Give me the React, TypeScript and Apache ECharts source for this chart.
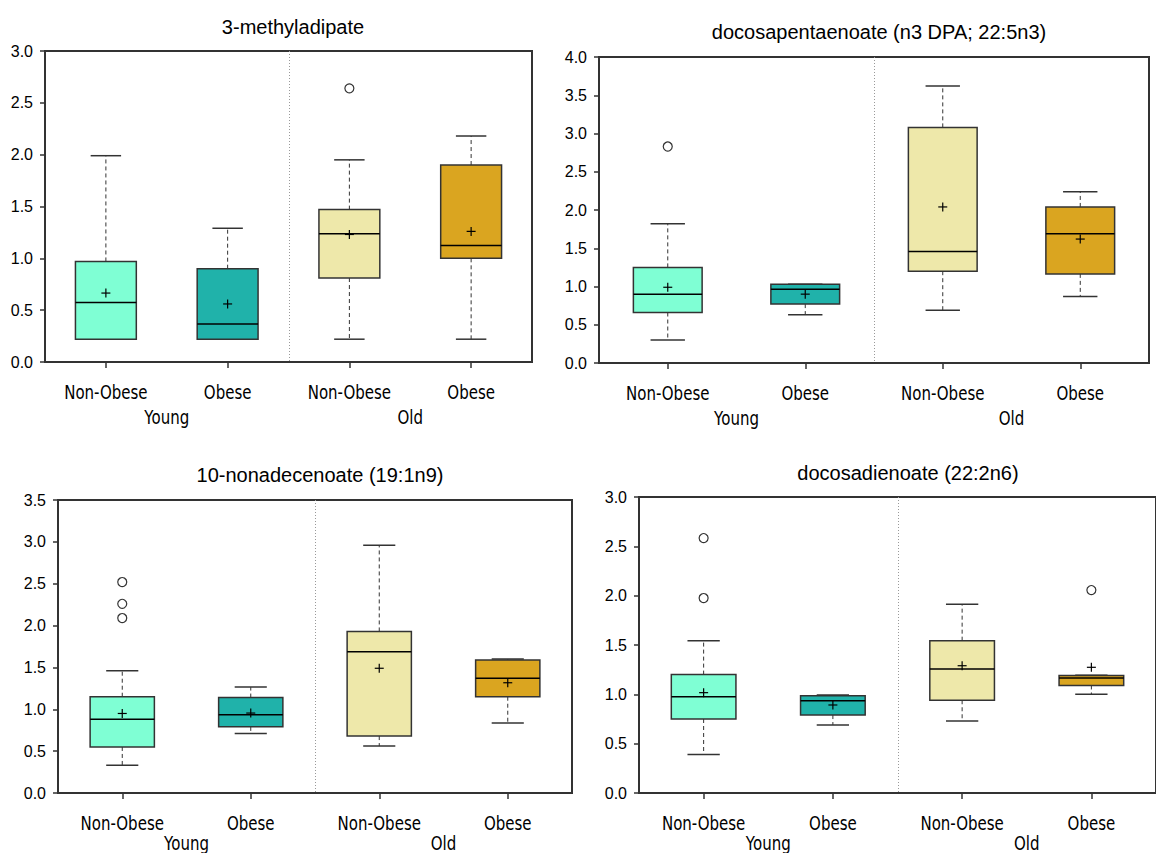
import React, { useEffect, useRef } from "react";
import * as echarts from "echarts";

// ---- Data ----
const categories = ["Non-Obese", "Obese", "Non-Obese", "Obese"];
const groups = ["Young", "Old"];
const boxColors = ["#7FFFD4", "#20B2AA", "#EEE8AA", "#DAA520"];

// Panel 1: 3-methyladipate
const p1Title = "3-methyladipate";
const p1Max = 3.0;
const p1Low = [0.22, 0.22, 0.22, 0.22];
const p1Q1 = [0.22, 0.22, 0.81, 1.0];
const p1Median = [0.575, 0.366, 1.237, 1.124];
const p1Q3 = [0.97, 0.9, 1.47, 1.9];
const p1High = [1.99, 1.29, 1.95, 2.18];
const p1Mean = [0.665, 0.56, 1.23, 1.26];
const p1Outliers = [[2, 2.64]];

// Panel 2: docosapentaenoate
const p2Title = "docosapentaenoate (n3 DPA; 22:5n3)";
const p2Max = 4.0;
const p2Low = [0.3, 0.63, 0.69, 0.87];
const p2Q1 = [0.66, 0.77, 1.2, 1.165];
const p2Median = [0.9, 0.965, 1.457, 1.69];
const p2Q3 = [1.25, 1.03, 3.08, 2.04];
const p2High = [1.82, 1.03, 3.62, 2.24];
const p2Mean = [0.99, 0.9, 2.04, 1.62];
const p2Outliers = [[0, 2.83]];

// Panel 3: 10-nonadecenoate
const p3Title = "10-nonadecenoate (19:1n9)";
const p3Max = 3.5;
const p3Low = [0.33, 0.71, 0.56, 0.835];
const p3Q1 = [0.55, 0.79, 0.68, 1.15];
const p3Median = [0.88, 0.935, 1.687, 1.372];
const p3Q3 = [1.15, 1.14, 1.93, 1.59];
const p3High = [1.46, 1.265, 2.96, 1.6];
const p3Mean = [0.95, 0.955, 1.49, 1.317];
const p3Outliers = [[0, 2.52], [0, 2.26], [0, 2.09]];

// Panel 4: docosadienoate
const p4Title = "docosadienoate (22:2n6)";
const p4Max = 3.0;
const p4Low = [0.39, 0.69, 0.73, 1.0];
const p4Q1 = [0.75, 0.79, 0.94, 1.09];
const p4Median = [0.976, 0.936, 1.257, 1.166];
const p4Q3 = [1.2, 0.986, 1.544, 1.19];
const p4High = [1.544, 0.993, 1.912, 1.193];
const p4Mean = [1.017, 0.892, 1.29, 1.274];
const p4Outliers = [[0, 2.584], [0, 1.976], [3, 2.057]];

const panels = [
  { title: p1Title, max: p1Max, low: p1Low, q1: p1Q1, med: p1Median, q3: p1Q3, high: p1High, mean: p1Mean, out: p1Outliers },
  { title: p2Title, max: p2Max, low: p2Low, q1: p2Q1, med: p2Median, q3: p2Q3, high: p2High, mean: p2Mean, out: p2Outliers },
  { title: p3Title, max: p3Max, low: p3Low, q1: p3Q1, med: p3Median, q3: p3Q3, high: p3High, mean: p3Mean, out: p3Outliers },
  { title: p4Title, max: p4Max, low: p4Low, q1: p4Q1, med: p4Median, q3: p4Q3, high: p4High, mean: p4Mean, out: p4Outliers },
];

// ---- Layout ----
const gridBoxes = [
  { left: 45, right: 624, top: 51, bottom: 491, titleX: 288, titleY: 12 },
  { left: 599, right: 7, top: 57, bottom: 490, titleX: 874, titleY: 17 },
  { left: 58, right: 584, top: 500, bottom: 60, titleX: 315, titleY: 460 },
  { left: 639, right: -11, top: 497, bottom: 60, titleX: 903, titleY: 458 },
];

const LABEL_FONT = '"DejaVu Sans", Verdana, sans-serif';
const SANS = '"Liberation Sans", Arial, sans-serif';
const DARK = "#333";

function renderBox(params: any, api: any) {
  const x = api.value(0);
  const idx = params.dataIndex;
  const pLow = api.coord([x, api.value(1)]);
  const pQ1 = api.coord([x, api.value(2)]);
  const pMed = api.coord([x, api.value(3)]);
  const pQ3 = api.coord([x, api.value(4)]);
  const pHigh = api.coord([x, api.value(5)]);
  const pMean = api.coord([x, api.value(6)]);
  const cx = pMed[0];
  const bw = api.size([1, 0])[0] * 0.5;
  const cap = bw / 4;
  const children: any[] = [];
  if (idx === 0) {
    const cs = params.coordSys;
    const c1 = api.coord([1, 0])[0];
    const c2 = api.coord([2, 0])[0];
    const mx = Math.round((c1 + c2) / 2) + 0.5;
    children.push({
      type: "line",
      shape: { x1: mx, y1: cs.y, x2: mx, y2: cs.y + cs.height },
      style: { stroke: "#999", lineWidth: 1, lineDash: [1, 2] },
    });
  }
  children.push(
    {
      type: "line",
      shape: { x1: cx, y1: pQ3[1], x2: cx, y2: pHigh[1] },
      style: { stroke: DARK, lineWidth: 1, lineDash: [4, 3] },
    },
    {
      type: "line",
      shape: { x1: cx, y1: pQ1[1], x2: cx, y2: pLow[1] },
      style: { stroke: DARK, lineWidth: 1, lineDash: [4, 3] },
    },
    {
      type: "line",
      shape: { x1: cx - cap, y1: pHigh[1], x2: cx + cap, y2: pHigh[1] },
      style: { stroke: DARK, lineWidth: 1.5 },
    },
    {
      type: "line",
      shape: { x1: cx - cap, y1: pLow[1], x2: cx + cap, y2: pLow[1] },
      style: { stroke: DARK, lineWidth: 1.5 },
    },
    {
      type: "rect",
      shape: { x: cx - bw / 2, y: pQ3[1], width: bw, height: pQ1[1] - pQ3[1] },
      style: { fill: boxColors[idx], stroke: DARK, lineWidth: 1.5 },
    },
    {
      type: "line",
      shape: { x1: cx - bw / 2, y1: pMed[1], x2: cx + bw / 2, y2: pMed[1] },
      style: { stroke: "#000", lineWidth: 1.5 },
    },
    {
      type: "line",
      shape: { x1: cx - 4.5, y1: pMean[1], x2: cx + 4.5, y2: pMean[1] },
      style: { stroke: "#000", lineWidth: 1.2 },
    },
    {
      type: "line",
      shape: { x1: cx, y1: pMean[1] - 4.5, x2: cx, y2: pMean[1] + 4.5 },
      style: { stroke: "#000", lineWidth: 1.2 },
    }
  );
  return { type: "group", children };
}

function buildOption() {
  const grid: any[] = [];
  const xAxis: any[] = [];
  const yAxis: any[] = [];
  const series: any[] = [];
  const title: any[] = [];

  panels.forEach((p, i) => {
    const g = gridBoxes[i];
    grid.push({
      left: g.left,
      right: g.right,
      top: g.top,
      bottom: g.bottom,
      show: true,
      borderColor: DARK,
      borderWidth: 2,
      backgroundColor: "transparent",
    });
    title.push({
      text: p.title,
      left: g.titleX,
      top: g.titleY,
      textAlign: "center",
      textStyle: { fontFamily: SANS, fontSize: 20, fontWeight: "normal", color: "#000" },
    });
    xAxis.push({
      type: "category",
      gridIndex: i,
      data: categories,
      boundaryGap: true,
      axisLine: { show: true, lineStyle: { color: DARK, width: 2 } },
      axisTick: { show: true, alignWithLabel: true, interval: 0, length: 6, lineStyle: { color: DARK, width: 1.5 } },
      axisLabel: { show: false },
      splitLine: { show: false },
    });
    yAxis.push({
      type: "value",
      gridIndex: i,
      min: 0,
      max: p.max,
      interval: 0.5,
      axisLine: { show: true, lineStyle: { color: DARK, width: 2 } },
      axisTick: { show: true, length: 5, lineStyle: { color: DARK, width: 1.5 } },
      axisLabel: {
        margin: 12,
        fontSize: 16,
        color: "#000",
        fontFamily: SANS,
        formatter: (v: number) => v.toFixed(1),
      },
      splitLine: { show: false },
    });
    const boxData = categories.map((_, k) => [k, p.low[k], p.q1[k], p.med[k], p.q3[k], p.high[k], p.mean[k]]);
    series.push({
      type: "custom",
      xAxisIndex: i,
      yAxisIndex: i,
      renderItem: renderBox,
      encode: { x: 0, y: [1, 2, 3, 4, 5, 6] },
      data: boxData,
      silent: true,
    });
    series.push({
      type: "scatter",
      xAxisIndex: i,
      yAxisIndex: i,
      data: p.out,
      symbol: "circle",
      symbolSize: 9,
      itemStyle: { color: "#fff", borderColor: "#000", borderWidth: 1.2 },
      silent: true,
      z: 5,
    });
  });

  return { animation: false, backgroundColor: "#fff", title, grid, xAxis, yAxis, series };
}

function labelEl(text: string, x: number, y: number) {
  return {
    type: "text",
    x,
    y,
    scaleX: 0.77,
    silent: true,
    style: {
      text,
      x: 0,
      y: 0,
      fill: "#000",
      fontSize: 19.5,
      fontFamily: LABEL_FONT,
      textAlign: "center",
      textVerticalAlign: "middle",
      align: "center",
      verticalAlign: "middle",
    },
  };
}

export default function App() {
  const ref = useRef<HTMLDivElement>(null);
  useEffect(() => {
    if (!ref.current) return;
    const chart = echarts.init(ref.current, undefined, { renderer: "svg" });
    chart.setOption(buildOption() as any);
    const elements: any[] = [];
    panels.forEach((_, i) => {
      const finder: any = { xAxisIndex: i, yAxisIndex: i };
      const pts = categories.map((_, k) => chart.convertToPixel(finder, [k, 0]) as number[]);
      categories.forEach((c, k) => {
        elements.push(labelEl(c, pts[k][0], pts[k][1] + 30));
      });
      groups.forEach((gName, j) => {
        const gx = (pts[2 * j][0] + pts[2 * j + 1][0]) / 2;
        const gy = Math.min(pts[0][1] + 55, 843);
        elements.push(labelEl(gName, gx, gy));
      });
    });
    chart.setOption({ graphic: elements } as any);
    return () => chart.dispose();
  }, []);
  return (
    <div
      ref={ref}
      style={{ position: "absolute", left: 0, top: 0, width: 1156, height: 853, overflow: "hidden" }}
    />
  );
}
